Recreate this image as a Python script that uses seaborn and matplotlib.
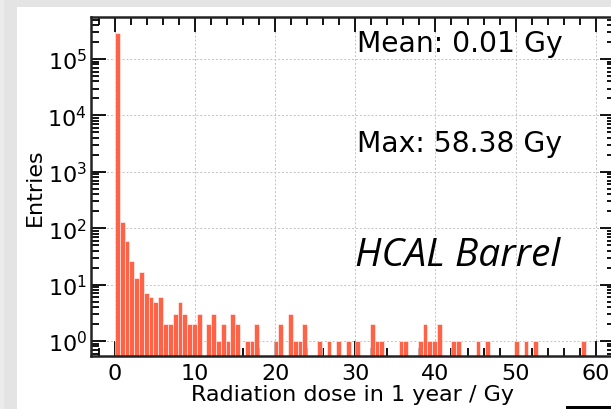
import numpy as np
import pandas as pd
import matplotlib
matplotlib.use("Agg")
import matplotlib.pyplot as plt
from matplotlib.patches import Rectangle
from matplotlib.ticker import MultipleLocator, LogLocator, NullFormatter
import seaborn as sns

# ---- data -------------------------------------------------------------
bin_range = [0.0, 60.0]
n_bins = 100
counts = [
    290000, 130, 59, 26, 13, 17, 7, 6, 5, 6,      # 0-9
    2, 2, 3, 5, 3, 2, 2, 3, 0, 2,                 # 10-19
    3, 1, 2, 1, 3, 2, 0, 1, 1, 2,                 # 20-29
    0, 0, 0, 1, 2, 0, 3, 1, 1, 2,                 # 30-39
    0, 0, 1, 0, 1, 0, 1, 0, 1, 0,                 # 40-49
    1, 0, 0, 2, 1, 1, 0, 0, 0, 1,                 # 50-59
    1, 0, 0, 1, 2, 1, 1, 2, 0, 0,                 # 60-69
    1, 1, 0, 0, 0, 1, 0, 1, 0, 0,                 # 70-79
    0, 0, 0, 1, 0, 1, 0, 1, 0, 0,                 # 80-89
    0, 0, 0, 0, 0, 0, 0, 1, 0, 0,                 # 90-99
]
x_label = "Radiation dose in 1 year / Gy"
y_label = "Entries"
mean_text = "Mean: 0.01 Gy"
max_text = "Max: 58.38 Gy"
region_text = "HCAL Barrel"

edges = np.linspace(bin_range[0], bin_range[1], n_bins + 1)
centers = 0.5 * (edges[:-1] + edges[1:])
df = pd.DataFrame({"dose": centers, "entries": counts})

# ---- figure -----------------------------------------------------------
W, H = 611, 410
fig = plt.figure(figsize=(W / 100, H / 100), dpi=100)
fig.patch.set_facecolor("#e4e4e4")
fig.add_artist(Rectangle((0, 0), 4 / W, 1, transform=fig.transFigure,
                         facecolor="#ececec", edgecolor="none", zorder=-10))
fig.add_artist(Rectangle((17 / W, 0), 1 - 17 / W, (H - 8) / H,
                         transform=fig.transFigure, facecolor="white",
                         edgecolor="none", zorder=-10))
fig.add_artist(Rectangle((566 / W, 0), 45 / W, 3 / H,
                         transform=fig.transFigure, facecolor="black",
                         edgecolor="none", zorder=5))

left, right, top, bottom = 91, 614.5, 18, 357
ax = fig.add_axes([left / W, (H - bottom) / H, (right - left) / W, (bottom - top) / H])
ax.set_zorder(1)
ax.set_facecolor("white")

sns.histplot(data=df, x="dose", weights="entries", bins=n_bins,
             binrange=tuple(bin_range), ax=ax,
             color="#ff6347", alpha=1.0, edgecolor="white", linewidth=0.4,
             stat="count")

ax.set_yscale("log")
ax.set_xlim(-3, 62.35)
ax.set_ylim(0.542, 5.56e5)

ax.xaxis.set_major_locator(MultipleLocator(10))
ax.xaxis.set_minor_locator(MultipleLocator(2))
ax.yaxis.set_major_locator(LogLocator(base=10, numticks=10))
ax.yaxis.set_minor_locator(LogLocator(base=10, subs=np.arange(2, 10), numticks=20))
ax.yaxis.set_minor_formatter(NullFormatter())

ax.tick_params(which="both", direction="in", top=True, right=True,
               width=1.3, color="black", labelsize=16)
ax.tick_params(which="major", length=11)
ax.tick_params(which="minor", length=5.5)
ax.tick_params(axis="x", which="major", pad=5)
ax.tick_params(axis="y", which="major", pad=3)

for s in ax.spines.values():
    s.set_linewidth(1.8)
    s.set_color("#222222")

ax.set_axisbelow(True)
ax.grid(True, which="major", color="#c2c2c2", linestyle=(0, (2, 2)), linewidth=0.7)

ax.set_xlabel(x_label, fontsize=16, labelpad=1)
ax.set_ylabel(y_label, fontsize=16, labelpad=2)

ax.text(0.508, 0.90, mean_text, transform=ax.transAxes, fontsize=20.3,
        ha="left", va="baseline")
ax.text(0.508, 0.605, max_text, transform=ax.transAxes, fontsize=20.3,
        ha="left", va="baseline")
ax.text(0.504, 0.267, region_text, transform=ax.transAxes, fontsize=28,
        ha="left", va="baseline", style="italic", family="Open Sans")

fig.savefig("out.png", dpi=100, facecolor=fig.get_facecolor())
